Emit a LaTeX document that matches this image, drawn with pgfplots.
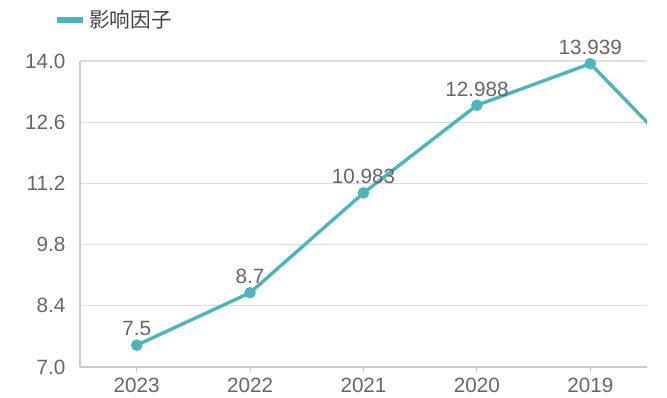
\documentclass[border=0pt]{standalone}
\usepackage{pgfplots}
\pgfplotsset{compat=1.18}
\usepackage{fontspec}
\setmainfont{Liberation Sans}
\newfontfamily\cjk{Noto Sans CJK SC}
\definecolor{teal1}{HTML}{4BB6BA}
\definecolor{lbl}{HTML}{666666}
\definecolor{gridc}{HTML}{DDDDDD}
\definecolor{axc}{HTML}{CCCCCC}
\definecolor{legc}{HTML}{444444}
\begin{document}
\begin{tikzpicture}
\useasboundingbox (-60pt,-22.5pt) rectangle (440.25pt,275.25pt);
\begin{axis}[
  at={(0,0)}, anchor=south west, scale only axis,
  width=425.25pt, height=229.5pt,
  xmin=-0.5, xmax=4.5, ymin=7, ymax=14,
  xtick={0,1,2,3,4}, xticklabels={2023,2022,2021,2020,2019},
  ytick={7,8.4,9.8,11.2,12.6,14},
  /pgf/number format/assume math mode=true,
  yticklabel style={/pgf/number format/.cd, fixed, fixed zerofill, precision=1},
  ticklabel style={font=\fontsize{15.5}{18}\selectfont, color=lbl},
  axis lines*=left,
  axis line style={color=axc, line width=0.9pt},
  ymajorgrids, grid style={color=gridc, line width=0.9pt},
  ytick style={draw=none},
  xtick style={color=axc, line width=0.8pt},
  tick align=outside, major tick length=3.5pt,
  yticklabel shift=4pt, xticklabel shift=1pt,
  legend style={at={(-0.0476,1.134)}, anchor=west, draw=none, fill=none, inner sep=0pt,
    font=\fontsize{15.5}{18}\selectfont\cjk, text=legc},
  legend cell align=left,
  legend image code/.code={\draw[teal1, line width=5pt] (0pt,0pt) -- (20pt,0pt);},
  clip=true,
]
\addplot[teal1, line width=2.5pt, forget plot] coordinates {(4,13.939) (5,11.26)};
\addplot[teal1, line width=2.5pt, mark=*, mark size=3pt, mark options={solid, fill=teal1},
  point meta=explicit symbolic,
  nodes near coords,
  every node near coord/.append style={font=\fontsize{15.5}{18}\selectfont, color=lbl, anchor=south, inner sep=0pt, yshift=5.5pt},
] coordinates {
  (0,7.5) [7.5]
  (1,8.7) [8.7]
  (2,10.983) [10.983]
  (3,12.988) [12.988]
  (4,13.939) [13.939]
};
\addlegendentry{影响因子}
\end{axis}
\end{tikzpicture}
\end{document}
